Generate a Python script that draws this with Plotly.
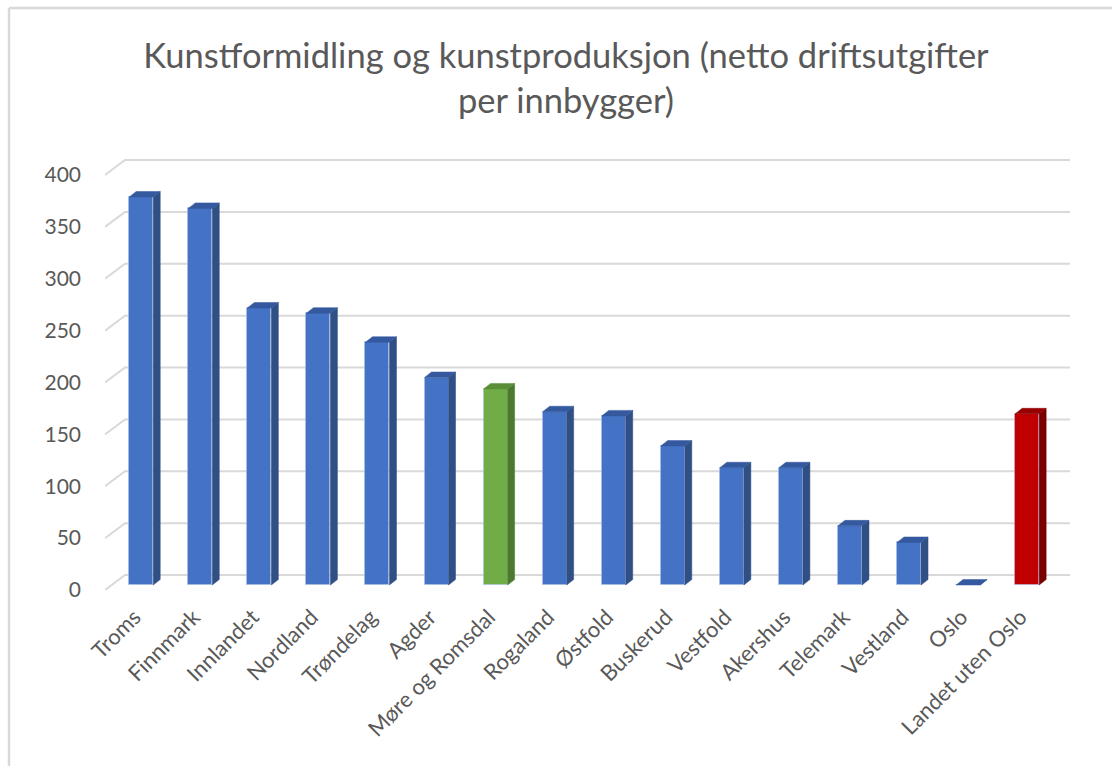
import plotly.graph_objects as go

# Netto driftsutgifter per innbygger, kunstformidling og kunstproduksjon
regions = ["Troms", "Finnmark", "Innlandet", "Nordland", "Trøndelag", "Agder",
           "Møre og Romsdal", "Rogaland", "Østfold", "Buskerud", "Vestfold",
           "Akershus", "Telemark", "Vestland", "Oslo", "Landet uten Oslo"]
values = [374, 363, 267, 262, 234, 200, 189, 167, 163, 134, 113, 113, 57, 41, 0, 165]
y_ticks = [0, 50, 100, 150, 200, 250, 300, 350, 400]

# face colours per bar: (front, side, top)
BLUE = ("#4472C4", "#2F4F85", "#34599E")
GREEN = ("#70AD47", "#4B7A2E", "#5A8F37")
RED = ("#C00000", "#7A0000", "#960000")
palette = [BLUE] * len(regions)
palette[regions.index("Møre og Romsdal")] = GREEN
palette[regions.index("Landet uten Oslo")] = RED

# pseudo-3D geometry (x in category units, y in value units)
UX = 1 / 59.06          # one pixel horizontally
UY = 1 / 1.0375         # one pixel vertically
WALL_DX, WALL_DY = 20 * UX, 15 * UY      # depth of the floor/back wall
BAR_SHIFT_X, BAR_SHIFT_Y = 6.7 * UX, 5 * UY  # bars sit a little behind the front
BAR_W = 24 * UX
BAR_DX, BAR_DY = 7 * UX, 5.5 * UY

fig = go.Figure()

x_left = -0.5
x_right = len(regions) - 0.5 + WALL_DX

# back-wall gridlines with slanted lead-ins on the left, kept behind the bars
for t in y_ticks:
    fig.add_shape(type="path", xref="x", yref="y", layer="below",
                  path=(f"M {x_left},{t} L {x_left + WALL_DX},{t + WALL_DY} "
                        f"L {x_right},{t + WALL_DY}"),
                  line=dict(color="#D9D9D9", width=2))

# front faces
xs = [i + BAR_SHIFT_X for i in range(len(regions))]
fig.add_trace(go.Bar(
    x=xs, y=values, base=BAR_SHIFT_Y, width=BAR_W,
    marker=dict(color=[p[0] for p in palette],
                line=dict(color="rgba(170,190,230,0.6)", width=1)),
    customdata=regions, hovertemplate="%{customdata}: %{y}<extra></extra>",
    showlegend=False))

# side and top faces
for x, v, (front, side, top) in zip(xs, values, palette):
    xl, xr = x - BAR_W / 2, x + BAR_W / 2
    b, h = BAR_SHIFT_Y, BAR_SHIFT_Y + v
    fig.add_trace(go.Scatter(
        x=[xr, xr + BAR_DX, xr + BAR_DX, xr, xr],
        y=[b, b + BAR_DY, h + BAR_DY, h, b],
        fill="toself", fillcolor=side, mode="lines",
        line=dict(color=side, width=0.5),
        hoverinfo="skip", showlegend=False))
    fig.add_trace(go.Scatter(
        x=[xl, xl + BAR_DX, xr + BAR_DX, xr, xl],
        y=[h, h + BAR_DY, h + BAR_DY, h, h],
        fill="toself", fillcolor=top, mode="lines",
        line=dict(color=top, width=0.5),
        hoverinfo="skip", showlegend=False))

L, R, T, B = 105, 42, 158, 176
W, H = 1112, 766
pw, ph = W - L - R, H - T - B

FONT = "Lato, 'Open Sans', sans-serif"
TXT = "#595959"

fig.update_layout(
    width=W, height=H,
    margin=dict(l=L, r=R, t=T, b=B),
    paper_bgcolor="white", plot_bgcolor="white",
    font=dict(family=FONT, color=TXT),
    title=dict(text="Kunstformidling og kunstproduksjon (netto driftsutgifter<br>per innbygger)",
               x=566 / W, xref="container", xanchor="center",
               y=1 - 68 / H, yref="container", yanchor="top",
               font=dict(size=34.5, color=TXT, family=FONT)),
    xaxis=dict(range=[x_left, x_right], tickmode="array",
               tickvals=list(range(len(regions))), ticktext=regions,
               tickangle=-45, showgrid=False, zeroline=False, showline=False,
               ticks="", ticklabelstandoff=9, tickfont=dict(size=22, color=TXT)),
    yaxis=dict(range=[0, (590 - 158) * UY], tickmode="array",
               tickvals=y_ticks, ticktext=[str(t) for t in y_ticks],
               showgrid=False, zeroline=False, showline=False, ticks="",
               ticklabelstandoff=23, tickfont=dict(size=21, color=TXT)),
    bargap=0,
)

# chart frame (top and left edges)
fig.add_shape(type="line", xref="paper", yref="paper",
              x0=(9 - L) / pw, x1=(W - L) / pw, y0=(H - B - 8) / ph, y1=(H - B - 8) / ph,
              line=dict(color="#D9D9D9", width=2.5))
fig.add_shape(type="line", xref="paper", yref="paper",
              x0=(9 - L) / pw, x1=(9 - L) / pw, y0=(H - B - 8) / ph, y1=-B / ph,
              line=dict(color="#D9D9D9", width=2.5))

fig.write_html("out.html")
